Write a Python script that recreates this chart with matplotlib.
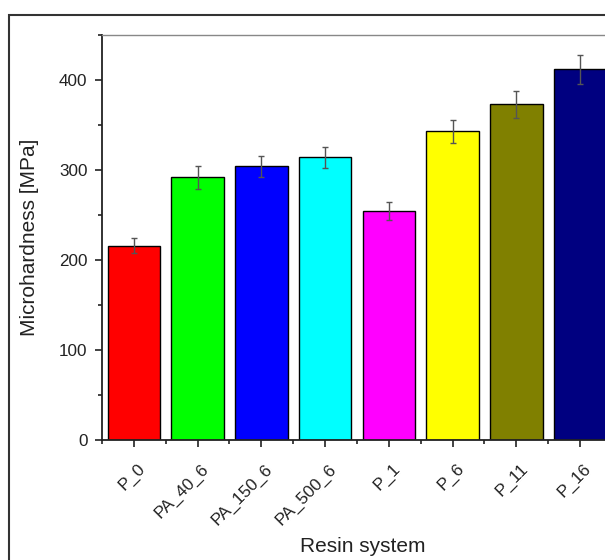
import matplotlib
matplotlib.use("Agg")
import matplotlib.pyplot as plt
from matplotlib.patches import Rectangle
from matplotlib.transforms import ScaledTranslation
from matplotlib.ticker import MultipleLocator, FixedLocator
import numpy as np

categories = ["P_0", "PA_40_6", "PA_150_6", "PA_500_6", "P_1", "P_6", "P_11", "P_16"]
values = [216, 292, 304, 314, 254, 343, 373, 412]
errors = [8.5, 13, 12, 12, 10, 13, 15, 16]
colors = ["#FF0000", "#00FF00", "#0000FF", "#00FFFF", "#FF00FF", "#FFFF00", "#808000", "#000080"]
y_ticks = [0, 100, 200, 300, 400]

plt.rcParams['font.family'] = ['Liberation Sans', 'DejaVu Sans']

W, H = 605, 560
fig = plt.figure(figsize=(W / 100, H / 100), dpi=100)
fig.patch.set_facecolor("white")

# outer frame
frame = Rectangle((9 / W, -0.1), 1.2, (1 - 15 / H) + 0.1, transform=fig.transFigure,
                  fill=False, edgecolor="#333333", linewidth=1.5, clip_on=False)
fig.patches.append(frame)

ax = fig.add_axes([102 / W, (H - 440) / H, (612 - 102) / W, (440 - 35) / H])

x = np.arange(len(categories))
ax.bar(x, values, width=0.82, color=colors, edgecolor="black", linewidth=1.0, zorder=2)
ax.errorbar(x, values, yerr=errors, fmt="none", ecolor="#555555", elinewidth=1.0,
            capsize=2.5, capthick=1.0, zorder=3)

ax.set_xlim(-0.5, len(categories) - 0.5)
ax.set_ylim(0, 450)

ax.set_yticks(y_ticks)
ax.yaxis.set_minor_locator(MultipleLocator(50))
ax.set_xticks(x)
ax.xaxis.set_minor_locator(FixedLocator(np.arange(-0.5, len(categories), 1.0)))

ax.tick_params(axis="both", which="major", direction="out", length=5, width=1.2,
               color="#222222", labelsize=12.3, labelcolor="#222222")
ax.tick_params(axis="both", which="minor", direction="out", length=3, width=1.2, color="#222222")
ax.tick_params(axis="y", which="major", pad=5.5)
ax.tick_params(axis="x", which="major", pad=14)

ax.set_xticklabels(categories, rotation=45, ha="right", va="center", rotation_mode="anchor")
offset = ScaledTranslation(9 / 100, 0, fig.dpi_scale_trans)
for lab in ax.get_xticklabels():
    lab.set_transform(lab.get_transform() + offset)

for s in ["left", "bottom"]:
    ax.spines[s].set_color("#222222")
    ax.spines[s].set_linewidth(1.3)
ax.spines["top"].set_color("#888888")
ax.spines["top"].set_linewidth(1.0)
ax.spines["right"].set_visible(False)

ax.set_ylabel("Microhardness [MPa]", fontsize=15, color="#222222", labelpad=14)
ax.set_xlabel("Resin system", fontsize=15, color="#222222")
ax.xaxis.set_label_coords(0.512, -0.24)

fig.savefig("out.png", dpi=100)
